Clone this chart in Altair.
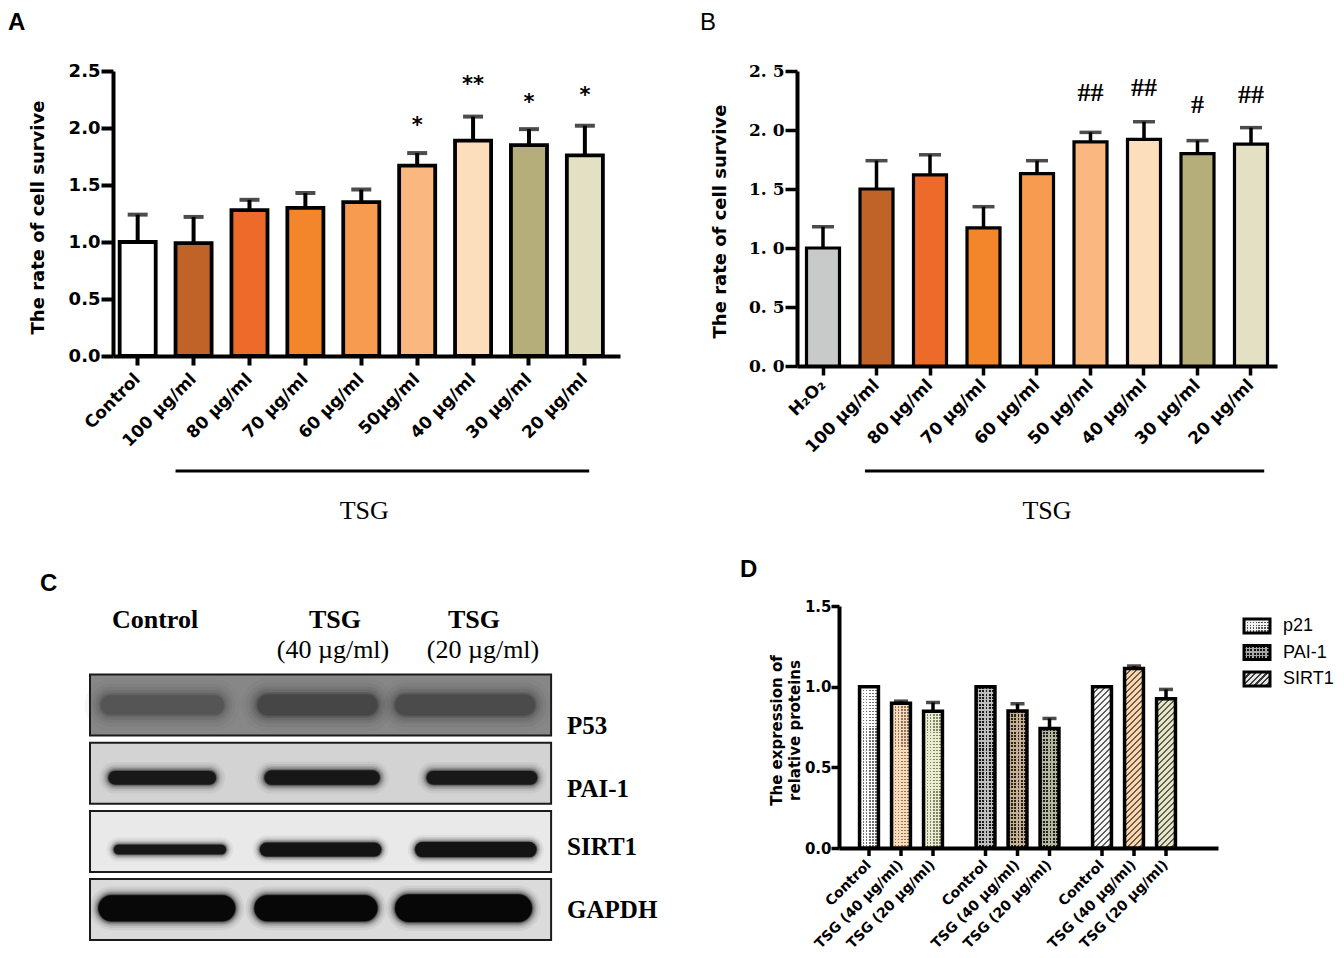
import altair as alt
import pandas as pd

# ===================== DATA =====================
# Panel A : cell survival, control vs TSG doses
a_categories = ["Control", "100 µg/ml", "80 µg/ml", "70 µg/ml", "60 µg/ml",
                "50µg/ml", "40 µg/ml", "30 µg/ml", "20 µg/ml"]
a_mean = [1.00, 0.99, 1.28, 1.30, 1.35, 1.67, 1.89, 1.85, 1.76]
a_upper = [1.24, 1.22, 1.37, 1.43, 1.46, 1.78, 2.10, 1.99, 2.02]
a_sig = ["", "", "", "", "", "*", "**", "*", "*"]
a_sig_level = [0, 0, 0, 0, 0, 2.07, 2.43, 2.27, 2.33]
a_colors = ["#FFFFFF", "#C06328", "#ED6A2A", "#F3862B", "#F69B50",
            "#FAB880", "#FDDEBC", "#B5AE7A", "#E4E0C4"]

# Panel B : cell survival, H2O2 vs TSG doses
b_categories = ["H₂O₂", "100 µg/ml", "80 µg/ml", "70 µg/ml", "60 µg/ml",
                "50 µg/ml", "40 µg/ml", "30 µg/ml", "20 µg/ml"]
b_mean = [1.00, 1.50, 1.62, 1.17, 1.63, 1.90, 1.92, 1.80, 1.88]
b_upper = [1.18, 1.74, 1.79, 1.35, 1.74, 1.98, 2.07, 1.91, 2.02]
b_sig = ["", "", "", "", "", "##", "##", "#", "##"]
b_sig_level = [0, 0, 0, 0, 0, 2.31, 2.36, 2.21, 2.30]
b_colors = ["#C8C9C9", "#C06328", "#ED6A2A", "#F3862B", "#F69B50",
            "#FAB880", "#FDDEBC", "#B5AE7A", "#E4E0C4"]

# Panel C : western blot (lanes x proteins)
c_lanes = ["Control", "TSG (40 µg/ml)", "TSG (20 µg/ml)"]
c_proteins = ["P53", "PAI-1", "SIRT1", "GAPDH"]
c_membrane = ["#878787", "#d3d3d3", "#e9e9e9", "#dbdbdb"]
c_band_color = [["#505050", "#404040", "#464646"],
                ["#151515", "#131313", "#151515"],
                ["#141414", "#111111", "#111111"],
                ["#070707", "#060606", "#060606"]]
c_band_offset = [[-0.03, -0.02, -0.06],      # centre shift from lane, in lanes
                 [-0.03, 0.01, 0.05],
                 [0.02, 0.00, 0.01],
                 [0.00, -0.03, -0.07]]
c_band_length = [[0.80, 0.78, 0.91],          # in lanes
                 [0.70, 0.75, 0.72],
                 [0.73, 0.79, 0.79],
                 [0.89, 0.80, 0.89]]
c_band_thickness = [[0.28, 0.30, 0.30],       # fraction of a row
                    [0.20, 0.21, 0.20],
                    [0.14, 0.20, 0.22],
                    [0.38, 0.38, 0.40]]
c_band_shift = [0.0, 0.066, 0.12, -0.02]
c_band_softness = [1.8, 1.0, 0.8, 1.0]
c_band_core_opacity = [0.55, 0.92, 0.95, 0.97]

# Panel D : relative protein expression
d_proteins = ["p21", "PAI-1", "SIRT1"]
d_groups = ["Control", "TSG (40 µg/ml)", "TSG (20 µg/ml)"]
d_p21 = [1.00, 0.897, 0.848]
d_pai1 = [1.00, 0.849, 0.741]
d_sirt1 = [1.00, 1.112, 0.925]
d_p21_upper = [None, 0.910, 0.902]
d_pai1_upper = [None, 0.894, 0.803]
d_sirt1_upper = [None, 1.128, 0.983]
d_fill_bg = {"p21": ["#ffffff", "#fadbb8", "#ebedcf"],
             "PAI-1": ["#bdbdbd", "#c4b095", "#b3b7a1"],
             "SIRT1": ["#f4f4f4", "#f8d7b2", "#e4e5c9"]}
d_fill_fg = {"p21": ["#707070", "#8c7562", "#82846c"],
             "PAI-1": ["#1a1a1a", "#2b2318", "#202419"],
             "SIRT1": ["#5a5a5a", "#6e5b47", "#5d5f4a"]}
d_pattern = {"p21": "dots", "PAI-1": "checks", "SIRT1": "hatch"}
d_legend_bg = ["#f2f2f2", "#a8a8a8", "#e6e6e6"]
d_legend_fg = ["#555555", "#111111", "#3a3a3a"]

# ===================== LAYOUT =====================
W_A, H_A = 507, 285
W_B, H_B = 480, 295
W_C, H_C = 439, 340
W_D, H_D = 379, 242
LANE_PX = 153.7
ROW_PX = 68.2

SANS = "DejaVu Sans"
SERIF = "Liberation Serif"


def stripe_gradient(c_on, c_off, n, duty, x1, y1, x2, y2):
    n = max(1, int(round(n)))
    stops = []
    for i in range(n):
        a = round(i / n, 5)
        m = round((i + duty) / n, 5)
        b = round((i + 1) / n, 5)
        stops += [{"offset": a, "color": c_on}, {"offset": m, "color": c_on},
                  {"offset": m, "color": c_off}, {"offset": b, "color": c_off}]
    return {"gradient": "linear", "x1": x1, "y1": y1, "x2": x2, "y2": y2, "stops": stops}


def hatch_gradient(c_on, c_off, w, h, period, duty):
    r = h / w
    s = (1 + r) / (1 + r * r)
    n = (w + h) / (period * 1.414)
    return stripe_gradient(c_on, c_off, n, duty, 0, 0, s, s * r)


def pattern_fills(kind, bg, fg, w, h):
    if kind == "hatch":
        return [hatch_gradient(fg, bg, w, h, 4.2, 0.42)]
    if kind == "dots":
        per, duty = 3.0, 0.5
    else:
        per, duty = 3.4, 0.6
    g1 = stripe_gradient(fg, bg, w / per, duty, 0, 0, 1, 0)
    g2 = stripe_gradient("transparent", bg, h / per, duty, 0, 0, 0, 1)
    return [g1, g2]


def letter_layer(letter, x, y, weight):
    return alt.Chart(pd.DataFrame({"t": [letter]})).mark_text(
        align="left", baseline="top", font="Liberation Sans", fontSize=24,
        fontWeight=weight, color="black").encode(
        x=alt.value(x), y=alt.value(y), text="t:N")


def survival_panel(cats, mean, upper, sig, sig_level, colors, cfg):
    df = pd.DataFrame({"cat": cats, "mean": mean, "upper": upper,
                       "sig": sig, "level": sig_level, "col": colors})
    xs = alt.Scale(domain=cats, paddingInner=cfg["pi"], paddingOuter=cfg["po"],
                   align=cfg["align"])
    ys = alt.Scale(domain=[0, 2.5], nice=False)
    xaxis = alt.Axis(title=None, labelAngle=315, labelAlign="right", labelBaseline="middle",
                     labelFont=SANS, labelFontWeight="bold", labelFontSize=17,
                     labelColor="black", labelPadding=cfg["xlp"], labelOverlap=False,
                     labelLimit=300, tickColor="black", tickWidth=cfg["tw"], tickSize=9,
                     domainColor="black", domainWidth=4)
    yaxis = alt.Axis(values=[0, 0.5, 1, 1.5, 2, 2.5], labelExpr=cfg["labelExpr"], grid=False,
                     labelFont=cfg["yfont"], labelFontWeight="bold",
                     labelFontSize=cfg["yfs"], labelColor="black", labelPadding=1,
                     tickColor="black", tickWidth=cfg["tw"], tickSize=cfg["ts"],
                     domainColor="black", domainWidth=4,
                     title="The rate of cell survive", titleFont=SANS, titleFontWeight="bold",
                     titleFontSize=18, titleColor="black", titleAngle=270,
                     titleAlign="center", titleBaseline="middle",
                     titleX=cfg["titleX"], titleY=cfg["titleY"])
    base = alt.Chart(df)
    X = alt.X("cat:N", sort=cats, scale=xs)
    bars = base.mark_bar(stroke="black", strokeWidth=cfg["sw"]).encode(
        x=alt.X("cat:N", sort=cats, scale=xs, axis=xaxis),
        y=alt.Y("mean:Q", scale=ys, axis=yaxis),
        fill=alt.Fill("col:N", scale=None))
    err = base.mark_rule(color="black", strokeWidth=cfg["ew"]).encode(
        x=X, y=alt.Y("mean:Q", scale=ys), y2="upper:Q")
    cap = base.mark_tick(color="black", thickness=cfg["ew"], size=cfg["cap"]).encode(
        x=X, y=alt.Y("upper:Q", scale=ys))
    sigs = base.transform_filter("datum.sig != ''").mark_text(
        font=cfg["sigfont"], fontWeight="bold", fontSize=cfg["sigfs"], color="black",
        baseline="alphabetic", dy=cfg["sigdy"]).encode(
        x=X, y=alt.Y("level:Q", scale=ys), text="sig:N")
    grp = pd.DataFrame({"start": [cats[1]], "end": [cats[-1]], "mid": [cats[4]], "t": ["TSG"]})
    line = alt.Chart(grp).mark_rule(color="black", strokeWidth=3).encode(
        x=alt.X("start:N", sort=cats, scale=xs, bandPosition=cfg["bp0"]),
        x2=alt.X2("end:N", bandPosition=cfg["bp1"]),
        y=alt.value(400))
    tsg = alt.Chart(grp).mark_text(font=SERIF, fontSize=26, color="black",
                                   baseline="middle", dx=cfg["tsgdx"]).encode(
        x=alt.X("mid:N", sort=cats, scale=xs), y=alt.value(440), text="t:N")
    lab = letter_layer(cfg["letter"], cfg["lx"], -60, cfg["lw"])
    return alt.layer(bars, err, cap, sigs, line, tsg, lab).properties(
        width=cfg["w"], height=cfg["h"])


panel_a = survival_panel(a_categories, a_mean, a_upper, a_sig, a_sig_level, a_colors, dict(
    pi=0.355, po=0.2125, align=0.28, w=W_A, h=H_A, tw=4, ts=12, sw=3.8, ew=4, cap=20,
    labelExpr="format(datum.value, '.1f')", yfont=SANS, yfs=18, xlp=11,
    titleX=-75, titleY=146, sigfont=SANS, sigfs=21, sigdy=12,
    bp0=0.0, bp1=0.62, tsgdx=3, letter="A", lx=-105, lw="bold"))

panel_b = survival_panel(b_categories, b_mean, b_upper, b_sig, b_sig_level, b_colors, dict(
    pi=0.383, po=0.1775, align=0.5, w=W_B, h=H_B, tw=3.5, ts=12, sw=3.2, ew=3.5, cap=22,
    labelExpr="replace(format(datum.value, '.1f'), '.', '. ')", yfont="DejaVu Serif", yfs=17,
    xlp=7, titleX=-77, titleY=150, sigfont=SERIF, sigfs=26, sigdy=8,
    bp0=0.15, bp1=0.9, tsgdx=10, letter="B", lx=-97, lw="normal"))

# ---------------- Panel C : blot ----------------
c_x0 = -0.5 + 23 / LANE_PX
c_y0 = -99 / ROW_PX
xsC = alt.Scale(domain=[c_x0, c_x0 + W_C / LANE_PX], nice=False, zero=False)
ysC = alt.Scale(domain=[c_y0, c_y0 + H_C / ROW_PX], nice=False, zero=False, reverse=True)

box_half = 30.5 / ROW_PX
boxes = pd.DataFrame({"protein": c_proteins,
                      "x": [-0.5] * 4, "x2": [2.5] * 4,
                      "y": [r - box_half for r in range(4)],
                      "y2": [r + box_half for r in range(4)],
                      "bg": c_membrane})
halo = [(18, 0.05), (13, 0.08), (9, 0.12), (6, 0.18), (3, 0.30), (1, 0.5), (0, None)]
band_rows = []
for level, (extra, op) in enumerate(halo):
    for r in range(len(c_proteins)):
        for l in range(len(c_lanes)):
            core = c_band_thickness[r][l] * ROW_PX
            c = l + c_band_offset[r][l]
            half = c_band_length[r][l] / 2
            inset = core / 2 / LANE_PX
            band_rows.append({"x": c - half + inset, "x2": c + half - inset,
                              "y": r + c_band_shift[r],
                              "size": core + extra * c_band_softness[r],
                              "op": c_band_core_opacity[r] if op is None else op,
                              "col": c_band_color[r][l], "level": level})
bands = pd.DataFrame(band_rows)

c_box = alt.Chart(boxes).mark_rect(stroke="#1b1b1b", strokeWidth=2).encode(
    x=alt.X("x:Q", scale=xsC, axis=None), x2="x2:Q",
    y=alt.Y("y:Q", scale=ysC, axis=None), y2="y2:Q",
    fill=alt.Fill("bg:N", scale=None))
c_band = alt.Chart(bands).mark_rule(strokeCap="round").encode(
    x=alt.X("x:Q", scale=xsC, axis=None), x2="x2:Q",
    y=alt.Y("y:Q", scale=ysC, axis=None),
    size=alt.Size("size:Q", scale=None),
    opacity=alt.Opacity("op:Q", scale=None),
    color=alt.Color("col:N", scale=None),
    order=alt.Order("level:Q"))

head = pd.DataFrame({"t": ["Control", "TSG", "TSG"],
                     "x": [-0.077, 1.094, 1.998], "y": [-1.246] * 3})
sub = pd.DataFrame({"t": ["(40 µg/ml)", "(20 µg/ml)"],
                    "x": [1.081, 2.057], "y": [-0.80] * 2})
rowlab = pd.DataFrame({"t": c_proteins, "x": [2.5] * 4,
                       "y": [r + d / ROW_PX for r, d in enumerate([21, 16, 6, 0])]})
c_head = alt.Chart(head).mark_text(font=SERIF, fontWeight="bold", fontSize=26,
                                   color="black", baseline="middle").encode(
    x=alt.X("x:Q", scale=xsC, axis=None), y=alt.Y("y:Q", scale=ysC, axis=None), text="t:N")
c_sub = alt.Chart(sub).mark_text(font=SERIF, fontSize=26, color="black",
                                 baseline="middle").encode(
    x=alt.X("x:Q", scale=xsC, axis=None), y=alt.Y("y:Q", scale=ysC, axis=None), text="t:N")
c_rows = alt.Chart(rowlab).mark_text(font=SERIF, fontWeight="bold", fontSize=25,
                                     color="black", align="left", baseline="middle",
                                     dx=16).encode(
    x=alt.X("x:Q", scale=xsC, axis=None), y=alt.Y("y:Q", scale=ysC, axis=None), text="t:N")
panel_c = alt.layer(c_box, c_band, c_head, c_sub, c_rows,
                    letter_layer("C", -73, -34, "bold")).properties(width=W_C, height=H_C)

# ---------------- Panel D ----------------
d_rows = []
for p, vals, ups in [("p21", d_p21, d_p21_upper), ("PAI-1", d_pai1, d_pai1_upper),
                     ("SIRT1", d_sirt1, d_sirt1_upper)]:
    for g, v, u in zip(d_groups, vals, ups):
        d_rows.append({"protein": p, "group": g, "value": v, "upper": u})
ddf = pd.DataFrame(d_rows)

dxs = alt.Scale(domain=d_proteins, paddingInner=0.176, paddingOuter=0.2145, align=0.28)
doff = alt.Scale(domain=d_groups, paddingInner=0.41, paddingOuter=0.205)
dys = alt.Scale(domain=[0, 1.5], nice=False)
d_xaxis = alt.Axis(title=None, labels=False, ticks=False, domainColor="black", domainWidth=4)
d_yaxis = alt.Axis(values=[0, 0.5, 1.0, 1.5], format=".1f", grid=False,
                   labelFont=SANS, labelFontWeight="bold", labelFontSize=15,
                   labelColor="black", labelPadding=0,
                   tickColor="black", tickWidth=3.5, tickSize=8,
                   domainColor="black", domainWidth=4,
                   title=["The  expression of", "relative  proteins"],
                   titleFont=SANS, titleFontWeight="bold", titleFontSize=15,
                   titleColor="black", titleAngle=270, titleAlign="center",
                   titleBaseline="middle", titleLineHeight=18,
                   titleX=-63, titleY=124)
DX = alt.X("protein:N", sort=d_proteins, scale=dxs)
DO = alt.XOffset("group:N", sort=d_groups, scale=doff)
dbase = alt.Chart(ddf)
bar_w = 116.5 * (1 - 0.176) / 3 * (1 - 0.41)
d_layers = []
first = True
for p in d_proteins:
    vals = ddf[ddf.protein == p]
    for j, g in enumerate(d_groups):
        v = float(vals[vals.group == g]["value"].iloc[0])
        h = v * H_D / 1.5
        fills = pattern_fills(d_pattern[p], d_fill_bg[p][j], d_fill_fg[p][j], bar_w, h)
        sel = dbase.transform_filter((alt.datum.protein == p) & (alt.datum.group == g))
        for f in fills:
            if first:
                enc = dict(x=alt.X("protein:N", sort=d_proteins, scale=dxs, axis=d_xaxis),
                           y=alt.Y("value:Q", scale=dys, axis=d_yaxis))
                first = False
            else:
                enc = dict(x=DX, y=alt.Y("value:Q", scale=dys))
            d_layers.append(sel.mark_bar(fill=f, strokeWidth=0).encode(xOffset=DO, **enc))
d_outline = dbase.mark_bar(fillOpacity=0, stroke="black", strokeWidth=3.5).encode(
    x=DX, xOffset=DO, y=alt.Y("value:Q", scale=dys))
d_err = dbase.transform_filter("isValid(datum.upper)").mark_rule(
    color="black", strokeWidth=3.5).encode(
    x=DX, xOffset=DO, y=alt.Y("value:Q", scale=dys), y2="upper:Q")
d_cap = dbase.transform_filter("isValid(datum.upper)").mark_tick(
    color="black", thickness=3.5, size=14).encode(
    x=DX, xOffset=DO, y=alt.Y("upper:Q", scale=dys))
d_ticks = dbase.mark_rule(color="black", strokeWidth=3.5).encode(
    x=DX, xOffset=DO, y=alt.value(H_D), y2=alt.value(H_D + 8))
d_labels = dbase.mark_text(angle=315, align="right", baseline="middle", font=SANS,
                           fontWeight="bold", fontSize=14, color="black").encode(
    x=DX, xOffset=DO, y=alt.value(H_D + 15), text="group:N")
d_main = alt.layer(*d_layers, d_outline, d_err, d_cap, d_ticks, d_labels,
                   letter_layer("D", -99, -48, "bold"))

# legend
leg_df = pd.DataFrame({"protein": d_proteins})
lys = alt.Scale(type="band", domain=d_proteins, range=[6.75, 86.25],
                paddingInner=0.47, paddingOuter=0.235)
leg_layers = []
for i, p in enumerate(d_proteins):
    fills = pattern_fills(d_pattern[p], d_legend_bg[i], d_legend_fg[i], 26, 14)
    sel = alt.Chart(leg_df).transform_filter(alt.datum.protein == p)
    for f in fills:
        leg_layers.append(sel.mark_rect(fill=f, strokeWidth=0).encode(
            x=alt.value(405), x2=alt.value(431),
            y=alt.Y("protein:N", scale=lys, axis=None)))
leg_box = alt.Chart(leg_df).mark_rect(fillOpacity=0, stroke="black", strokeWidth=3).encode(
    x=alt.value(405), x2=alt.value(431), y=alt.Y("protein:N", scale=lys, axis=None))
leg_txt = alt.Chart(leg_df).mark_text(align="left", baseline="middle", font="Liberation Sans",
                                      fontSize=18, color="black").encode(
    x=alt.value(444), y=alt.Y("protein:N", scale=lys, axis=None, bandPosition=0.5),
    text="protein:N")
legend = alt.layer(*leg_layers, leg_box, leg_txt)

panel_d = alt.layer(d_main, legend).resolve_scale(y="independent").properties(
    width=W_D, height=H_D)

top = alt.hconcat(panel_a, panel_b, spacing=177, bounds="flush")
bottom = alt.hconcat(panel_c, panel_d, spacing=287, bounds="flush")
chart = alt.vconcat(top, bottom, spacing=535, bounds="flush",
                    padding={"left": 0, "top": 3, "right": 0, "bottom": 0}).configure(
    font=SANS).configure_view(stroke=None)

chart.save("out.html", embed_options={"renderer": "svg", "actions": False})
